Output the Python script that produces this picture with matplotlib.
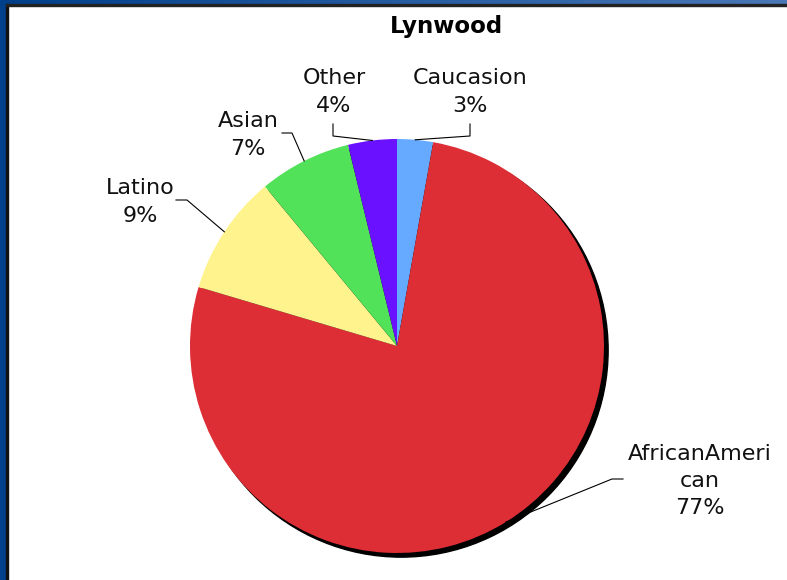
import numpy as np
import matplotlib.pyplot as plt
from matplotlib.patches import Circle, Rectangle
from matplotlib.colors import LinearSegmentedColormap

# data
groups = ["Caucasion", "AfricanAmerican", "Latino", "Asian", "Other"]
label_text = ["Caucasion", "AfricanAmeri\ncan", "Latino", "Asian", "Other"]
shares = [2.8, 76.8, 9.4, 7.2, 3.8]
colors = ["#66AAFF", "#DD2E36", "#FFF38E", "#52E25A", "#6A12FF"]

W, H, dpi = 787, 580, 100
cx, cy, r = 397, 346, 207  # pie centre / radius in pixels


def px(x, y):
    # pixel (from top-left) -> data units of the pie axes
    return (x - cx) / r, (cy - y) / r


fig = plt.figure(figsize=(W / dpi, H / dpi), dpi=dpi)
fig.patch.set_facecolor("white")
ax = fig.add_axes([0, 0, 1, 1])

# shadow behind the pie
ax.add_patch(Circle((0.02, -0.02), 1.0, color="black", zorder=1))

wedges, _ = ax.pie(shares, colors=colors, startangle=90, counterclock=False,
                   radius=1.0, wedgeprops=dict(linewidth=0))
for w in wedges:
    w.set_zorder(2)

ax.set_aspect("auto")
ax.set_xlim(-cx / r, (W - cx) / r)
ax.set_ylim(-(H - cy) / r, cy / r)
ax.axis("off")

# label layout: text centre, elbow point, line end (pixels)
label_pos = [(470, 92), (700, 481), (140, 202), (248, 135), (334, 92)]
elbow = [(470, 136), (612, 479), (187, 200), (292, 133), (333, 136)]
line_end = [(470, 124), (623, 479), (176, 200), (282, 133), (333, 124)]

for i, w in enumerate(wedges):
    mid = np.deg2rad((w.theta1 + w.theta2) / 2)
    ex, ey = np.cos(mid), np.sin(mid)
    bx, by = px(*elbow[i])
    lx, ly = px(*line_end[i])
    ax.plot([ex, bx, lx], [ey, by, ly], color="black", lw=0.8, zorder=3)
    tx, ty = px(*label_pos[i])
    ax.text(tx, ty, f"{label_text[i]}\n{shares[i]:.0f}%", ha="center", va="center",
            fontsize=16, linespacing=1.45, color="#111111")

tx, ty = px(446, 27)
ax.text(tx, ty, "Lynwood", ha="center", va="center", fontsize=16.5, fontweight="bold")

# window frame: blue strips on left and top with dark inner line
fig.patches.append(Rectangle((0, 0), 6 / W, 1, transform=fig.transFigure,
                             color="#003F8A", zorder=5))
fig.patches.append(Rectangle((6 / W, 0), 2 / W, 1 - 4 / H, transform=fig.transFigure,
                             color="#111111", zorder=5))
top = fig.add_axes([0, 1 - 4 / H, 1, 4 / H])
grad = np.linspace(0, 1, 256).reshape(1, -1)
cmap = LinearSegmentedColormap.from_list("frame", ["#003F8A", "#4A78B8"])
top.imshow(grad, aspect="auto", cmap=cmap)
top.axis("off")
fig.patches.append(Rectangle((6 / W, 1 - 6 / H), 1, 2 / H, transform=fig.transFigure,
                             color="#222222", zorder=5))

fig.savefig("out.png", dpi=dpi)
